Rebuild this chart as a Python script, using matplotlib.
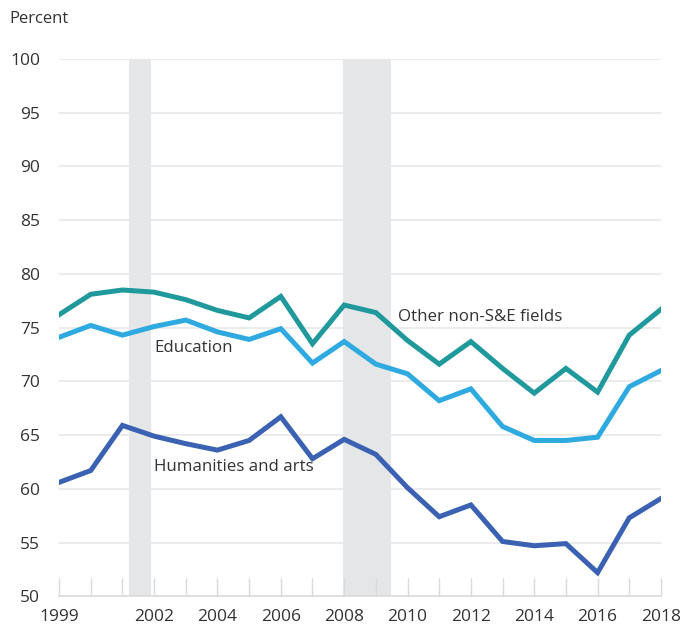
import matplotlib.pyplot as plt
import numpy as np

years = np.arange(1999, 2019)
other = [76.2, 78.1, 78.5, 78.3, 77.6, 76.6, 75.9, 77.9, 73.5, 77.1,
         76.4, 73.8, 71.6, 73.7, 71.2, 68.9, 71.2, 69.0, 74.3, 76.7]
education = [74.1, 75.2, 74.3, 75.1, 75.7, 74.6, 73.9, 74.9, 71.7, 73.7,
             71.6, 70.7, 68.2, 69.3, 65.8, 64.5, 64.5, 64.8, 69.5, 71.0]
humanities = [60.6, 61.7, 65.9, 64.9, 64.2, 63.6, 64.5, 66.7, 62.8, 64.6,
              63.2, 60.1, 57.4, 58.5, 55.1, 54.7, 54.9, 52.2, 57.3, 59.1]
recessions = [(2001.22, 2001.9), (2007.97, 2009.47)]
xtick_labels = ['1999', '', '', '2002', '', '2004', '', '2006', '', '2008',
                '', '2010', '', '2012', '', '2014', '', '2016', '', '2018']

plt.rcParams['font.family'] = ['Open Sans', 'DejaVu Sans']
txt = '#333333'

fig = plt.figure(figsize=(6.95, 6.27), dpi=100)
ax = fig.add_axes([0.085, 0.049, 0.866, 0.857])

for a, b in recessions:
    ax.axvspan(a, b, color='#e5e6e8', lw=0, zorder=0)

for v in range(55, 101, 5):
    ax.axhline(v, color='#e8e8e8', lw=1.2, zorder=0.5)

ax.plot(years, other, color='#1f999b', lw=3.6, solid_joinstyle='miter', zorder=3)
ax.plot(years, education, color='#2eaae1', lw=3.6, solid_joinstyle='miter', zorder=3)
ax.plot(years, humanities, color='#3b62b2', lw=3.6, solid_joinstyle='miter', zorder=3)

ax.text(2009.7, 76.0, 'Other non-S&E fields', fontsize=12.2, color=txt, va='center')
ax.text(2002.0, 73.1, 'Education', fontsize=12.2, color=txt, va='center')
ax.text(2002.0, 62.0, 'Humanities and arts', fontsize=12.2, color=txt, va='center')

ax.set_xlim(1999, 2018)
ax.set_ylim(50, 100)
ax.set_xticks(years)
ax.set_xticklabels(xtick_labels)
ax.set_yticks(range(50, 101, 5))
ax.tick_params(axis='y', length=0, pad=13.5, labelsize=12.5, labelcolor=txt)
ax.tick_params(axis='x', direction='in', length=13, width=1, color='#d9d9d9',
               pad=9, labelsize=12.5, labelcolor=txt)

for s in ['top', 'right', 'left']:
    ax.spines[s].set_visible(False)
ax.spines['bottom'].set_color('#d9d9d9')
ax.spines['bottom'].set_linewidth(1.2)

fig.text(0.014, 0.969, 'Percent', fontsize=12, color=txt, va='center')

fig.savefig('out.png', dpi=100)
